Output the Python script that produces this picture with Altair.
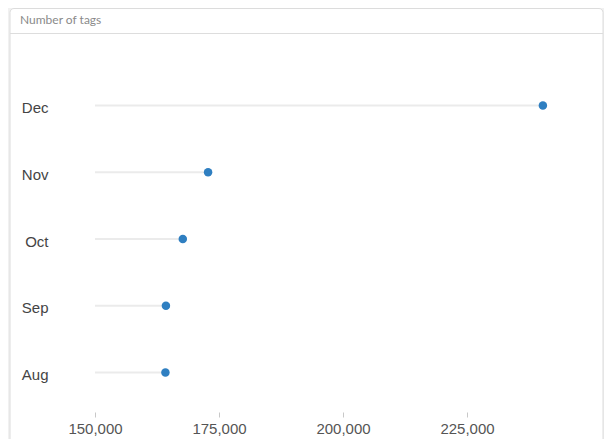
import altair as alt
import pandas as pd

months = ["Dec", "Nov", "Oct", "Sep", "Aug"]
tags = [240300, 172800, 167700, 164300, 164200]
axis_start = 150000
axis_end = 250000
tick_values = [150000, 175000, 200000, 225000]
header = ["Number of tags"]

df = pd.DataFrame({"month": months, "tags": tags, "start": [axis_start] * len(months)})
hdf = pd.DataFrame({"label": header})

W, H = 496, 334

xscale = alt.Scale(domain=[axis_start, axis_end], nice=False, zero=False)
yscale = alt.Scale(type="point", padding=0.5, domain=months)

card = alt.Chart(hdf).mark_rect(
    fill="white", stroke="#dcdcdc", strokeWidth=1, cornerRadius=4
).encode(
    x=alt.value(-85), x2=alt.value(508), y=alt.value(-63.5), y2=alt.value(400)
)

head_text = alt.Chart(hdf).mark_text(
    align="left", baseline="middle", font="Lato", fontSize=12, color="#8a8a8a"
).encode(
    text="label:N", x=alt.value(-75), y=alt.value(-52)
)

head_line = alt.Chart(hdf).mark_rule(color="#dddddd", strokeWidth=1).encode(
    x=alt.value(-85), x2=alt.value(508), y=alt.value(-38.5)
)

stems = alt.Chart(df).mark_rule(color="#ebebeb", strokeWidth=2).encode(
    x=alt.X("start:Q", scale=xscale,
            axis=alt.Axis(values=tick_values, format=",d", title=None, grid=False,
                          domain=False, tickSize=5, tickColor="#c8c8c8", offset=6,
                          labelPadding=4, labelFontSize=15, labelFont="Liberation Sans",
                          labelAlign="center", labelFlush=False,
                          labelColor="#555555", zindex=2)),
    x2="tags:Q",
    y=alt.Y("month:N", scale=yscale, sort=months,
            axis=alt.Axis(title=None, domain=False, ticks=False, grid=False,
                          labelPadding=47, labelFontSize=15, labelFont="Liberation Sans",
                          labelOffset=2, labelColor="#444444", zindex=2)),
)

dots = alt.Chart(df).mark_circle(size=72, opacity=1, color="#2f7fc1").encode(
    x=alt.X("tags:Q", scale=xscale),
    y=alt.Y("month:N", scale=yscale, sort=months),
)

chart = alt.layer(card, head_text, head_line, stems, dots).properties(
    width=W, height=H,
    autosize=alt.AutoSizeParams(type="none"),
    padding={"left": 87, "top": 64, "right": 13, "bottom": 33},
    background="#f1f1f1",
).configure_view(stroke=None)

chart.save("out.html", embed_options={"renderer": "svg", "actions": False})
